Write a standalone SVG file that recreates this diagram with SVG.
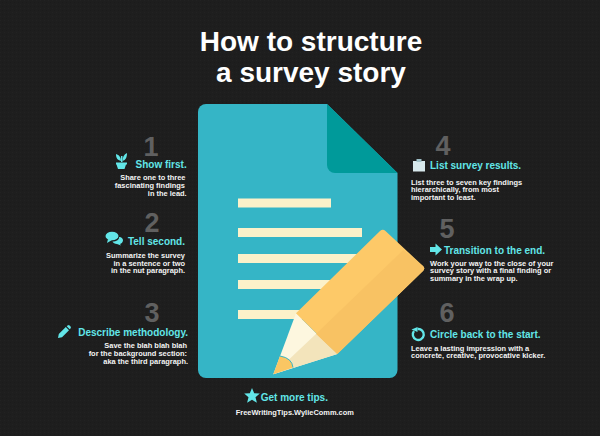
<svg xmlns="http://www.w3.org/2000/svg" width="600" height="436" viewBox="0 0 600 436">
<style>
text{font-family:"Liberation Sans",Arial,sans-serif;font-weight:700}
.t{fill:#fff;font-size:28px;text-anchor:middle}
.n{fill:#606060;font-size:27px;text-anchor:middle}
.h{fill:#62e6e8;font-size:10px}
.b{fill:#f4f4f4;font-size:7.45px}
.e{text-anchor:end}
.i{fill:#62e6e8}
.l{fill:#fbf1c9}
</style>
<defs>
<pattern id="bg" width="4" height="4" patternUnits="userSpaceOnUse"><rect width="4" height="4" fill="#1e1e1e"/><rect width="1" height="1" fill="#222"/><rect x="2" y="2" width="1" height="1" fill="#1b1b1b"/></pattern>
</defs>
<rect width="600" height="436" fill="url(#bg)"/>
<g id="title"><text class="t" x="311" y="51">How to structure</text><text class="t" x="311" y="82">a survey story</text></g>
<g id="document">
<path d="M206 104H327L397.500 173V370a8 8 0 0 1-8 8H206a8 8 0 0 1-8-8V112a8 8 0 0 1 8-8Z" fill="#35b5c6"/>
<path d="M327 104L397.500 173H335a8 8 0 0 1-8-8Z" fill="#009a9a"/>
<rect class="l" x="238" y="198.500" width="93" height="9"/>
<rect class="l" x="238" y="228" width="124" height="9"/>
<rect class="l" x="238" y="254" width="124" height="9"/>
<rect class="l" x="238" y="280" width="124" height="9"/>
<rect class="l" x="238" y="310" width="124" height="9"/>
</g>
<g id="pencil">
<path d="M296 313.300L337.300 354L273.300 374.300Z" fill="#fdf7df"/>
<path d="M316 334L337.300 354L273.300 374.300Z" fill="#f3e4bb"/>
<path d="M280 356L273.300 374.300L293 367.500Q292 358 280 356Z" fill="#fac663"/>
<path d="M280 356Q292 358 293 367.500" fill="none" stroke="#35b5c6" stroke-width="1"/>
<path d="M296 313.300L380 231a4 4 0 0 1 5.500 0L423 266a3.500 3.500 0 0 1 0 5L337.300 354Z" fill="#fdc968"/>
<path d="M316 334L403.300 250L423 266a3.500 3.500 0 0 1 0 5L337.300 354Z" fill="#f8c263"/>
</g>
<g id="step1">
<text class="n" x="151" y="156">1</text>
<path class="i" d="M116 162.500h11v2h-1l-1.500 4.500h-6.500l-1.500-4.500h-.5Z"/>
<path class="i" d="M121 161c0-4-2-6-5-7 0 4 1.500 6 5 7ZM122.500 161c0-4 1.500-6.500 4.500-8 0 4-1 7-4.500 8Z"/>
<rect class="i" x="121" y="156" width="1.500" height="6"/>
<text class="h e" x="186.700" y="167.700">Show first.</text>
<text class="b e" x="185.500" y="180">Share one to three</text>
<text class="b e" x="185" y="187.700">fascinating findings</text>
<text class="b e" x="186.700" y="195.500">in the lead.</text>
</g>
<g id="step2">
<text class="n" x="152" y="231.700">2</text>
<ellipse class="i" cx="112" cy="236" rx="6.500" ry="4.300"/>
<path class="i" d="M108 239l-1 4 5-3Z"/>
<path class="i" d="M119 237c3 0 4 2 4 3.500s-1.500 3-3 3.500l1 1.500-4-1.500c-2 0-4-1-4.500-2.500 4 0 7-2 6.500-4.500Z"/>
<text class="h e" x="185" y="245">Tell second.</text>
<text class="b e" x="185" y="258">Summarize the survey</text>
<text class="b e" x="185" y="265.700">in a sentence or two</text>
<text class="b e" x="185" y="273.400">in the nut paragraph.</text>
</g>
<g id="step3">
<text class="n" x="152" y="322">3</text>
<path class="i" d="M58 338l.8-4 7-7 3.200 3.200-7 7ZM67.500 325.500l1.500-.5 2 2-.5 1.500-.8.8-3-3Z"/>
<text class="h e" x="188" y="335.700">Describe methodology.</text>
<text class="b e" x="187" y="348.300">Save the blah blah blah</text>
<text class="b e" x="187" y="356">for the background section:</text>
<text class="b e" x="188" y="363.700">aka the third paragraph.</text>
</g>
<g id="step4">
<text class="n" x="443" y="155">4</text>
<rect x="413" y="161" width="12" height="10.500" fill="#d7e8ec"/>
<rect x="416.500" y="159" width="5" height="3" fill="#9fc0c8"/>
<text class="h" x="430" y="169">List survey results.</text>
<text class="b" x="411" y="184.500">List three to seven key findings</text>
<text class="b" x="411" y="192">hierarchically, from most</text>
<text class="b" x="411" y="199.700">important to least.</text>
</g>
<g id="step5">
<text class="n" x="447" y="237.700">5</text>
<path class="i" d="M430 247h5.500v-3.500l6.500 6-6.500 6v-3.500h-5.500Z"/>
<text class="h" x="444" y="253.700">Transition to the end.</text>
<text class="b" x="430" y="265.700">Work your way to the close of your</text>
<text class="b" x="430" y="273.300">survey story with a final finding or</text>
<text class="b" x="430" y="281">summary in the wrap up.</text>
</g>
<g id="step6">
<text class="n" x="447" y="321.700">6</text>
<path d="M414 331a5.500 5.500 0 1 0 3.500-2" fill="none" stroke="#62e6e8" stroke-width="2.400"/>
<path class="i" d="M411.500 329.500l6-2.500v5Z"/>
<text class="h" x="430" y="337.700">Circle back to the start.</text>
<text class="b" x="411" y="350.700">Leave a lasting impression with a</text>
<text class="b" x="411" y="358">concrete, creative, provocative kicker.</text>
</g>
<g id="tips">
<path class="i" d="M252 388l2.200 5.200 5.600.4-4.300 3.600 1.400 5.500-4.900-3-4.900 3 1.400-5.500-4.300-3.600 5.600-.4Z"/>
<text class="h" x="260.700" y="401">Get more tips.</text>
<text class="b" x="235.700" y="414.700">FreeWritingTips.WylieComm.com</text>
</g>
</svg>
